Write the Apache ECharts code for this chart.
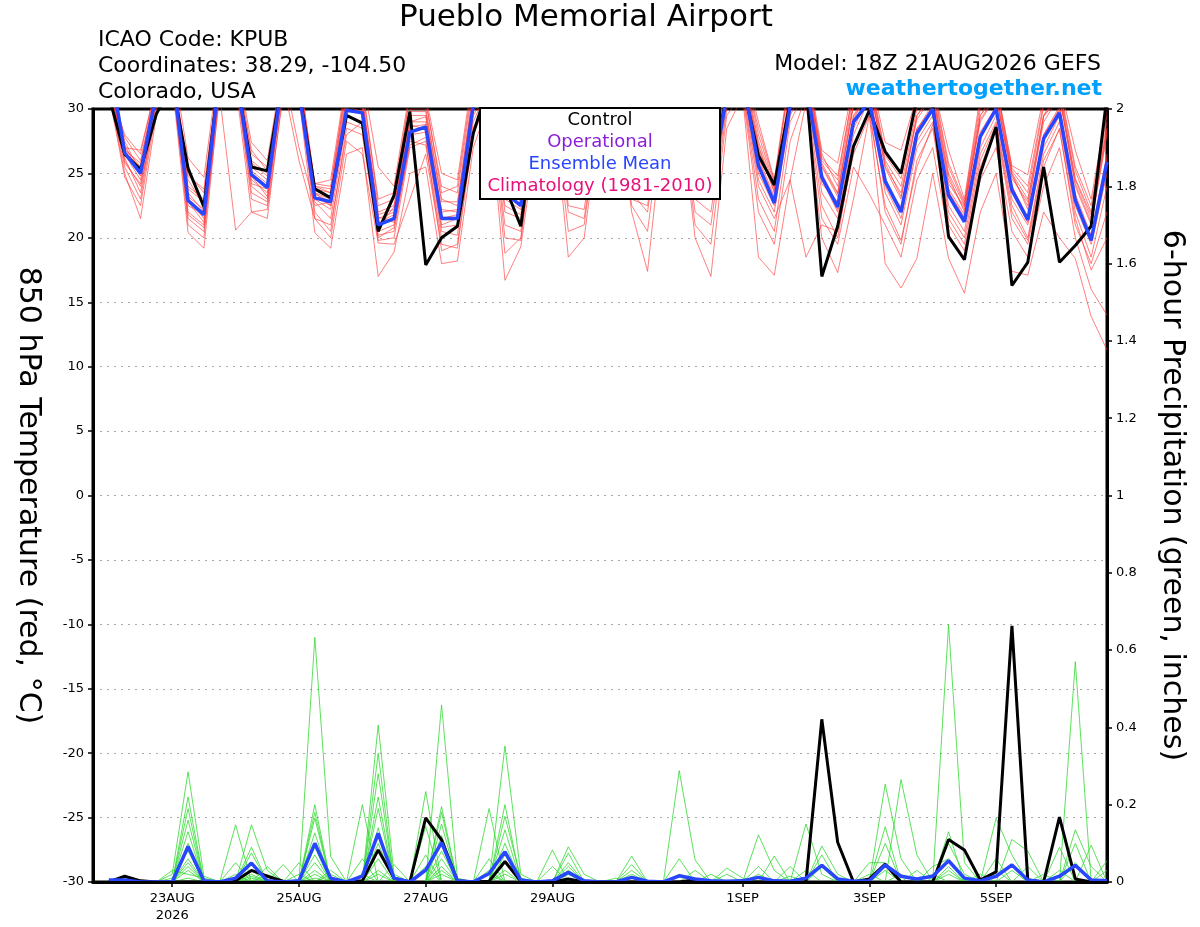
<!DOCTYPE html>
<html><head><meta charset="utf-8">
<script src="https://cdn.jsdelivr.net/npm/echarts@6/dist/echarts.min.js"></script>
<style>html,body{margin:0;padding:0;background:#fff}#c{width:1200px;height:927px}</style>
</head><body><div id="c"></div>
<script>
// ---------- time categories (6-hourly, 21AUG 18Z .. 06SEP 18Z) ----------
const MONTHS = ['JAN','FEB','MAR','APR','MAY','JUN','JUL','AUG','SEP','OCT','NOV','DEC'];
const startUTC = Date.UTC(2026, 7, 21, 18);
const times = [];
for (let k = 0; k <= 64; k++) {
  const d = new Date(startUTC + k * 6 * 3600 * 1000);
  times.push(d.getUTCDate() + MONTHS[d.getUTCMonth()] + ' ' + String(d.getUTCHours()).padStart(2, '0') + 'Z');
}
const tickLabels = {
  '23AUG 00Z': '23AUG\n2026', '25AUG 00Z': '25AUG', '27AUG 00Z': '27AUG', '29AUG 00Z': '29AUG',
  '1SEP 00Z': '1SEP', '3SEP 00Z': '3SEP', '5SEP 00Z': '5SEP'
};

// ---------- 850 hPa temperature (°C), forecast hours 6..384 ----------
const tempControl = [31,26.5,25.3,29.6, 32,25.4,22.4,33, 32.8,25.5,25.2,32.5, 31.5,23.8,23.1,29.5, 28.9,20.5,23.3,29.8, 17.9,20.0,20.9,28.1, 32,24,20.9,30, 32,26,24.5,30.5, 32,25.5,24.5,30, 32,26,25,31, 32,26.4,24.1,30.5, 32,17.0,20.9,27.1, 29.9,26.7,25.0,30.8, 30.3,20.1,18.3,25.0, 28.6,16.3,18.1,25.5, 18.1,19.4,20.9,31];
const tempMean = [34,26.6,25.0,31.2, 33,22.9,21.8,33, 33,24.9,23.9,32.7, 31.4,23.1,22.8,29.9, 29.7,21.0,21.5,28.2, 28.6,21.5,21.5,30.3, 32,23.5,22.5,30, 32,24.5,24,30.5, 32,24.8,24.2,30, 32,25,24,31, 32.5,25.6,22.7,30.2, 32,24.7,22.4,29.0, 30.6,24.4,22.0,28.1, 30.0,23.3,21.25,27.85, 30.0,23.7,21.4,27.7, 29.7,22.9,19.8,25.9];

const tempMemberA = [32,26.5,24.5,31, 33,23,21.5,32.5, 33,25,24,32.5, 32,23.5,22.5,30.5, 30,21,21.5,29, 29,21.5,21.8,30.5, 32,23.5,22.5,30.5, 32.5,24.5,24,31.5, 33,25,24.5,32, 32.5,25,24,31.5, 32.5,26,23,30.5, 32.5,25,22.5,29.5, 31.5,24.5,22,28.5, 30,23.5,21.5,28, 30,24,21.5,28, 30,23,20,26];
const tempMemberB = [32.5,27,25.5,31.5, 33.5,24.5,22.5,33, 33.5,26,25,33, 32.5,24,23.5,31.5, 31,22,22.5,30, 30,23,22.5,31.5, 33,25,24,31.5, 33,26,25.5,32.5, 33.5,26,25.5,33, 33,26,25.5,32.5, 33.5,27.5,24,31.5, 33.5,26.5,24,31, 32.5,26,24,30, 31.5,25,22.5,29.5, 31.5,25,23,29.5, 31.5,24.5,21.5,28.5];
const tempMemberC = [31.5,25.5,23,30.5, 32.5,21,20,32, 32.5,23,22.5,32, 31.5,22,20.5,28.5, 28,19.8,20,27, 27.5,19,19.5,28.5, 31,21,20.5,29.5, 31.5,22,21.5,30, 32,23,22.5,30.5, 31.5,22,21,30, 31.5,23,20.5,29, 31.5,22.5,20,27, 30,22,19.5,26, 28.5,21,19,25.5, 28.5,21.5,19.5,25.5, 28.5,21,18,22];
const tempMemberD = [32,28,26.5,32, 34,26.2,24.7,34, 34,27.4,26,33.5, 33,24.2,24.5,32.5, 32.5,25.5,24,31.5, 31,25,24.5,33, 34,26.5,25,33, 34,27,26,33.5, 34,26.5,26,33.5, 34,26.5,26,33.5, 34,29,24.5,33, 34,26.8,25.8,32, 33,27.4,26.8,31, 32,26.8,23,31, 32,25.6,24.9,31, 32,26.8,23,30];
const tempMemberE = [31,26,24,30, 32.8,22,21,32, 32.8,24,23,32, 26,21.5,21,28, 29,20.5,21,28, 28.2,20.8,21,29.8, 31.5,22.5,21.8,30, 32,23.5,23,31, 32.5,24.5,23.5,31.5, 32,24.5,23.5,31, 32,25,22.5,30, 32,24.5,22,28.5, 31,24,21.5,27.5, 29.5,22.5,20.5,27, 29.5,23,21,27, 29.5,22.5,19.5,25];
const tempMemberF = [32,27.5,25,31, 33.2,23.5,22,33, 33,25.5,24.5,33, 32,23.5,23,30.8, 30.5,21.5,22,29.5, 29.5,22.2,22,31, 32.5,24.2,23.2,31, 33,25.5,25,32, 33.2,25.5,25,32.5, 33,25.5,25,32, 33,26.8,23.5,31, 33,25.8,23.5,30.5, 32,25.5,23.5,29.5, 31,24.5,22.2,29, 31,24.8,22.5,29, 31,24,21,28];
const tempMemberG = [31.5,25,21.5,29.5, 32,20.4,19.2,31.5, 32,22,21.5,31.5, 31,20.4,19.2,26.5, 27,17,18.9,25, 25.5,18,18.2,27, 30.5,16.7,19.3,28, 31,18.5,20,29.5, 31.5,22,17.4,29, 31,20,17,28.5, 31,18.5,17.1,24.5, 30.5,20,17.3,23, 29.5,18,16.1,18.4, 25,18.4,15.7,22, 25,17.4,17.1,22, 20,18.4,13.9,11.3];
const tempMemberH = [32.5,26.8,25.8,32, 33.6,25,23.5,33.5, 33.5,26.5,25.5,33.5, 32.8,24,23.8,32, 31.5,23,23.5,31, 30.5,24,23.5,32, 33.5,25.8,24.5,32.5, 33.5,26.5,25.8,33, 33.8,26.2,25.8,33.2, 33.5,26.2,25.8,33, 33.8,28,24.2,32.5, 33.5,26.2,24.8,31.5, 32.8,26.6,25,30.5, 32,25.8,22.8,30.5, 32,25.4,24,30.5, 31.8,25.5,22.5,29.5];
const tempMemberI = [31.8,27.2,24.8,31, 33,22.5,21.8,32.8, 33,24.5,23.5,32.5, 32,23,22.2,29.5, 29,20.2,20.5,27.5, 27.2,20,20.8,29, 31.8,22,21.5,30.2, 32,23,23.5,31, 32.4,24,23.8,31.2, 32,24,23,30.8, 32,24.5,22,29.5, 32,23.5,21.5,28, 30.8,23.5,21,27, 29,22,20,26.5, 29,22.5,20,26.5, 29,22,18.5,24];
const tempMemberJ = [32,26.2,23.5,30.8, 33.4,23.8,22.8,33.2, 33.2,25.8,24.8,33, 27,22.5,22.8,30, 30.5,21.8,22.2,29.8, 29.8,22.8,22.8,31.2, 32.8,24.5,23.8,31.5, 32.8,25.2,24.8,32, 33,25.8,25.2,32.6, 32.8,25.6,24.8,32.2, 33,27,23.8,31.2, 33,25.5,23.2,30.2, 32,25.8,23.2,29.2, 31,24.2,22.4,29.2, 31,24.6,22.8,29.5, 31,24.2,21.2,28.2];
const tempMemberK = [31.2,24.7,22.5,30, 32.6,21.5,20.5,31, 20.6,22,22.2,31, 31.5,21.5,20,27.5, 26.5,19.6,19.5,23, 26.5,19.5,19.2,28, 31,18.8,20,29, 31.2,20.5,21,30, 31.8,22.5,20.5,30, 31.2,21,19.5,29.5, 31.2,22,19.5,27.5, 31,21.5,19.5,25.5, 23.4,21,18.5,24.5, 27,20.2,18.5,24.5, 27,20.5,18.5,24, 27,20,16,14];
const tempMemberL = [32.2,27.8,26,31.5, 33.8,24,23,33.6, 33.6,26.8,25.2,33.2, 33,24.2,24,32, 32,22.5,23,31, 30.8,23.5,24,32.5, 33.2,25.5,24.8,32, 33.4,26.2,25.2,33, 33.6,26.4,25.6,33.4, 33.4,26.4,25.4,33, 33.6,28.5,24.4,32.5, 33.5,26,24.5,31.5, 32.5,26.4,24.6,30.8, 31.8,25.5,22.6,30, 31.8,25.2,23.5,30.2, 31.6,25.2,22,29];
const tempMemberM = [31.6,26.4,25.2,31.2, 33,22.8,21.2,32.6, 33,24.8,23.2,32.6, 32,23.2,22.5,30.2, 29.8,21.2,21.8,28.6, 28.8,21,21.5,30.2, 32.2,23.8,22.8,31, 32.4,24.8,24.2,31.6, 32.8,24.8,24.4,31.8, 32.4,25,24.2,31.6, 32.6,26.2,23.2,30.6, 32.5,24.8,22.2,29.4, 31.2,24.6,22.2,28.2, 30.2,23.8,21.8,28.2, 30.2,24,21.6,28, 30.2,23.4,20.2,26.5];
const tempMemberN = [32.4,25.8,24.2,30.6, 32.4,21.8,20.8,32, 32.5,23.5,22.8,32, 31.5,22.8,21.5,29, 28.5,20,20.8,27.2, 27.8,20.5,20.2,29.5, 31.5,20,19.8,29.8, 31.8,22.5,22.2,30.5, 32,23.5,22,31, 31.8,23,22,30.4, 31.6,24,21.5,24.5, 18.5,21,20.5,26.5, 29.5,22.5,19.8,25.5, 28.8,21.5,19.5,26, 28.8,22,19.8,26, 28.4,21.5,17.5,20];
const tempMemberO = [31.9,27,26.8,31.8, 33.5,24.8,23.8,33.4, 33.4,25.2,24.2,33, 32.5,23.8,23.5,31, 30.8,21.6,21.2,29, 29.4,22,22.2,30.8, 32.6,24.8,23.5,31.2, 32.8,25.8,24.6,32.2, 33.2,25.2,24.8,32.4, 32.8,25.8,24.6,32.4, 33.2,27.2,23.6,31.4, 33,25.6,23.4,30.4, 32,25.4,23,29.5, 31.2,24.8,22,29.5, 31,25,22.2,29.4, 31,24.6,21.8,28.5];
const tempMemberP = [32.1,26.6,25.5,31.4, 33.2,23.2,22.2,33, 33,24.2,23.8,32.8, 32.2,23.4,22.8,30.6, 30.2,20.8,22.4,28.8, 28.4,21.6,21.6,30, 32,23,22.2,30.6, 32.2,24,23.8,31.4, 32.6,24.4,23.6,31.6, 32.2,24.6,23.6,31.2, 32.4,25.6,22.8,30.4, 32.2,24.2,22.8,29.2, 31.4,24.2,22.4,28.4, 30.4,23.6,21.6,27.8, 30.2,23.5,21.2,27.6, 30,23.2,19.8,26.2];

// ---------- 6-hour precipitation (inches) ----------
const precipControl = [0,0.015,0.003,0,0,0,0,0, 0.003,0.03,0.015,0.002,0,0,0,0, 0.003,0.083,0.01,0,0.166,0.109,0.003,0, 0.002,0.053,0.002,0,0,0.008,0,0, 0,0,0,0,0,0.006,0,0, 0,0,0,0,0,0.421,0.103,0, 0.008,0.046,0,0,0,0.11,0.083,0.005, 0.026,0.663,0.005,0,0.168,0.008,0,0];
const precipMean = [0.005,0.005,0,0,0,0.092,0.003,0, 0.01,0.049,0.003,0,0.003,0.10,0.01,0, 0.015,0.126,0.01,0,0.031,0.102,0.003,0, 0.022,0.078,0.005,0,0.003,0.025,0.003,0, 0,0.012,0.002,0,0.016,0.008,0.003,0.002, 0.003,0.012,0.003,0.002,0.01,0.043,0.008,0.002, 0.003,0.044,0.015,0.008,0.015,0.055,0.01,0.003, 0.015,0.044,0.005,0,0.015,0.043,0.005,0.003];

const precipMember01 = [0,0,0,0,0.02,0.285,0.015,0, 0,0.09,0,0,0,0.2,0,0, 0,0.28,0,0,0,0.195,0,0, 0,0.1,0,0,0,0.04,0,0, 0,0,0,0,0,0,0.02,0, 0,0,0,0,0.15,0.02,0,0, 0,0,0,0,0,0.13,0,0.02, 0,0,0,0,0,0,0,0.03];
const precipMember02 = [0,0,0,0,0,0.22,0,0, 0,0.075,0,0,0,0.165,0,0, 0,0.14,0,0,0.04,0,0,0, 0,0.352,0.02,0,0,0,0,0, 0,0.03,0,0,0,0,0,0, 0,0,0.067,0,0,0,0,0, 0,0.1,0,0,0,0,0,0, 0.165,0.07,0,0,0,0,0,0];
const precipMember03 = [0,0,0,0,0,0.19,0,0, 0.05,0,0,0,0.02,0,0.02,0, 0,0.333,0,0,0,0.15,0,0, 0,0.03,0,0,0,0.075,0,0, 0,0,0,0,0,0.03,0,0, 0,0,0,0,0,0.093,0.02,0, 0,0,0,0,0,0.04,0,0, 0,0,0,0,0.09,0,0,0];
const precipMember04 = [0.005,0,0,0,0,0.16,0,0, 0,0.03,0,0,0,0.18,0,0, 0,0.06,0,0,0.234,0,0,0, 0.06,0,0,0,0,0,0,0, 0.01,0,0,0,0,0,0,0, 0,0.122,0.03,0,0,0,0,0, 0,0,0.02,0,0,0,0,0, 0,0.11,0.08,0,0,0,0,0];
const precipMember05 = [0,0,0,0,0,0.13,0,0, 0,0.148,0.03,0,0,0.03,0,0, 0,0.22,0,0,0,0.18,0,0, 0,0.07,0,0,0.04,0,0,0, 0,0,0,0,0.06,0,0,0, 0,0,0,0,0,0,0,0, 0.05,0.05,0,0,0,0.03,0,0, 0,0,0,0,0,0.57,0,0];
const precipMember06 = [0,0.01,0,0,0,0.1,0,0, 0,0,0,0,0,0.633,0.066,0, 0,0.02,0,0,0,0.08,0,0, 0.03,0,0,0,0,0.03,0,0, 0,0,0,0,0,0,0,0, 0,0,0,0.04,0,0,0,0, 0,0,0,0.03,0,0,0,0, 0.03,0,0,0,0,0,0.095,0];
const precipMember07 = [0,0,0,0,0.01,0.08,0,0, 0,0.05,0,0,0,0.07,0,0, 0.06,0,0,0,0.07,0,0,0, 0,0.17,0.01,0,0,0,0,0, 0,0.067,0,0,0,0,0,0, 0,0.02,0,0,0,0,0,0, 0,0.253,0.06,0,0,0,0,0, 0,0,0,0,0,0.1,0,0];
const precipMember08 = [0,0,0,0,0,0.06,0,0, 0.148,0,0.04,0,0,0,0,0, 0,0.19,0,0,0,0.458,0.01,0, 0,0,0,0,0,0,0,0, 0,0.02,0,0,0,0,0,0, 0,0,0,0,0.03,0,0,0, 0,0,0,0,0,0.1,0.02,0, 0,0,0,0,0,0,0,0.055];
const precipMember09 = [0.005,0,0,0,0,0.05,0,0, 0,0,0.02,0,0,0.127,0,0, 0,0.03,0,0,0,0.03,0,0, 0.19,0,0,0,0,0.05,0,0, 0,0,0,0,0,0,0,0.036, 0.01,0,0,0,0,0,0,0, 0,0.03,0,0,0,0.02,0,0, 0.06,0,0,0,0,0,0,0];
const precipMember10 = [0,0,0,0,0,0.04,0,0, 0.02,0,0,0.045,0,0.02,0,0, 0,0.406,0.02,0,0,0.04,0,0, 0,0.2,0,0,0,0,0,0, 0,0.045,0,0,0,0,0,0, 0,0,0,0,0,0.07,0,0, 0,0,0,0,0.02,0,0,0, 0,0,0,0.02,0,0.135,0.04,0];
const precipMember11 = [0,0,0,0,0,0.03,0,0, 0,0.02,0,0,0.05,0,0.03,0, 0,0,0,0,0.144,0,0,0, 0,0.05,0,0,0,0.02,0,0, 0,0,0,0,0.288,0.057,0,0, 0,0,0,0,0,0,0,0, 0,0,0.265,0.07,0,0,0,0, 0,0,0.04,0,0,0,0,0];
const precipMember12 = [0,0,0,0,0.03,0.02,0.01,0, 0,0,0,0,0,0.09,0,0, 0,0.1,0,0,0,0.12,0,0, 0.02,0,0,0,0.083,0,0,0, 0,0.01,0,0,0,0,0,0, 0,0.04,0,0,0,0,0,0, 0.02,0,0,0,0,0.665,0.05,0, 0,0,0,0,0,0,0,0];
const precipMember13 = [0,0,0,0,0,0.01,0,0, 0,0.015,0,0,0,0.05,0,0, 0.2,0,0,0,0,0.06,0,0, 0,0.02,0,0,0,0.091,0.02,0, 0,0,0,0,0,0,0,0.02, 0,0,0,0,0,0.04,0,0, 0,0,0,0,0.04,0.06,0,0, 0,0,0,0,0,0.05,0,0];
const precipMember14 = [0,0,0,0,0,0,0,0, 0,0.01,0,0,0,0.01,0,0, 0.02,0,0.045,0,0,0.02,0,0, 0,0.135,0,0,0,0.02,0,0, 0,0,0,0,0.02,0,0,0, 0,0,0,0.015,0,0,0,0, 0,0.143,0,0,0,0,0,0, 0,0.03,0,0,0.03,0,0,0];

const tempMembers = [tempMemberA, tempMemberB, tempMemberC, tempMemberD, tempMemberE, tempMemberF, tempMemberG, tempMemberH,
  tempMemberI, tempMemberJ, tempMemberK, tempMemberL, tempMemberM, tempMemberN, tempMemberO, tempMemberP];
const precipMembers = [precipMember01, precipMember02, precipMember03, precipMember04, precipMember05, precipMember06, precipMember07,
  precipMember08, precipMember09, precipMember10, precipMember11, precipMember12, precipMember13, precipMember14];

// ---------- chart ----------
const FONT = '"DejaVu Sans", "Liberation Sans", sans-serif';
const pad = arr => [null].concat(arr);   // first category is the 18Z analysis time (no value)

function lineSeries(name, data, yIdx, color, width, z) {
  return { name, type: 'line', data: pad(data), yAxisIndex: yIdx, symbol: 'none', silent: true,
    lineStyle: { color, width }, itemStyle: { color }, z: z, clip: true };
}

const series = [];
tempMembers.forEach((m, i) => series.push(lineSeries('T member ' + (i + 1), m, 0, 'rgba(255,55,55,0.8)', 0.8, 2)));
precipMembers.forEach((m, i) => series.push(lineSeries('P member ' + (i + 1), m, 1, 'rgba(40,215,40,0.95)', 0.8, 2)));
series.push(lineSeries('Control T', tempControl, 0, '#000000', 3, 3));
series.push(lineSeries('Control P', precipControl, 1, '#000000', 3, 3));
series.push(lineSeries('Mean T', tempMean, 0, '#2846ff', 3.5, 4));
series.push(lineSeries('Mean P', precipMean, 1, '#2846ff', 3.5, 4));

const isTick = (idx, val) => tickLabels.hasOwnProperty(val);

const chart = echarts.init(document.getElementById('c'), null, { renderer: 'canvas' });
chart.setOption({
  animation: false,
  backgroundColor: '#ffffff',
  textStyle: { fontFamily: FONT },
  grid: { left: 93, right: 93, top: 109, bottom: 45, show: true, borderColor: '#000', borderWidth: 3, containLabel: false },
  xAxis: {
    type: 'category', data: times, boundaryGap: false, z: 10,
    axisLine: { onZero: false, lineStyle: { color: '#000', width: 3 } },
    axisTick: { interval: isTick, length: 5, lineStyle: { color: '#000', width: 1.5 } },
    axisLabel: { interval: isTick, formatter: v => tickLabels[v] || '', color: '#000', fontSize: 13, fontFamily: FONT, margin: 8, lineHeight: 17 },
    splitLine: { show: false }
  },
  yAxis: [
    {
      type: 'value', min: -30, max: 30, interval: 5, position: 'left',
      axisLine: { show: true, lineStyle: { color: '#000', width: 3 } },
      axisTick: { show: true, length: 5, lineStyle: { color: '#000', width: 1.5 } },
      axisLabel: { color: '#000', fontSize: 13, fontFamily: FONT, margin: 9 },
      splitLine: { show: true, showMinLine: false, showMaxLine: false, lineStyle: { color: '#aaaaaa', width: 1, type: [2, 5] } },
      name: '850 hPa Temperature (red, °C)', nameLocation: 'middle', nameRotate: -90, nameGap: 50,
      nameTextStyle: { fontSize: 30, color: '#000', fontFamily: FONT }
    },
    {
      type: 'value', min: 0, max: 2, interval: 0.2, position: 'right',
      axisLine: { show: true, lineStyle: { color: '#000', width: 3 } },
      axisTick: { show: true, length: 5, lineStyle: { color: '#000', width: 1.5 } },
      axisLabel: { color: '#000', fontSize: 13, fontFamily: FONT, margin: 9 },
      splitLine: { show: false },
      name: '6-hour Precipitation (green, inches)', nameLocation: 'middle', nameRotate: -90, nameGap: 50,
      nameTextStyle: { fontSize: 30, color: '#000', fontFamily: FONT }
    }
  ],
  graphic: [
    { type: 'text', z: 100, style: { text: 'Pueblo Memorial Airport', x: 399, y: 18, fill: '#000', font: '31px ' + FONT, align: 'left', verticalAlign: 'middle' } },
    { type: 'text', z: 100, style: { text: 'ICAO Code: KPUB', x: 98, y: 40, fill: '#000', font: '22px ' + FONT, align: 'left', verticalAlign: 'middle' } },
    { type: 'text', z: 100, style: { text: 'Coordinates: 38.29, -104.50', x: 98, y: 66, fill: '#000', font: '22px ' + FONT, align: 'left', verticalAlign: 'middle' } },
    { type: 'text', z: 100, style: { text: 'Colorado, USA', x: 98, y: 92, fill: '#000', font: '22px ' + FONT, align: 'left', verticalAlign: 'middle' } },
    { type: 'text', z: 100, style: { text: 'Model: 18Z 21AUG2026 GEFS', x: 1101, y: 64, fill: '#000', font: '22px ' + FONT, align: 'right', verticalAlign: 'middle' } },
    { type: 'text', z: 100, style: { text: 'weathertogether.net', x: 1102, y: 89, fill: '#00a0ff', font: 'bold 22px ' + FONT, align: 'right', verticalAlign: 'middle' } },
    { type: 'rect', z: 100, shape: { x: 480, y: 108, width: 240, height: 91 }, style: { fill: '#fff', stroke: '#000', lineWidth: 2 } },
    { type: 'text', z: 101, style: { text: 'Control', x: 600, y: 120, fill: '#000', font: '18px ' + FONT, align: 'center', verticalAlign: 'middle' } },
    { type: 'text', z: 101, style: { text: 'Operational', x: 600, y: 142, fill: '#8a1ed8', font: '18px ' + FONT, align: 'center', verticalAlign: 'middle' } },
    { type: 'text', z: 101, style: { text: 'Ensemble Mean', x: 600, y: 164, fill: '#2846ff', font: '18px ' + FONT, align: 'center', verticalAlign: 'middle' } },
    { type: 'text', z: 101, style: { text: 'Climatology (1981-2010)', x: 600, y: 186, fill: '#e8107a', font: '18px ' + FONT, align: 'center', verticalAlign: 'middle' } }
  ],
  series: series
});
</script>
</body></html>
